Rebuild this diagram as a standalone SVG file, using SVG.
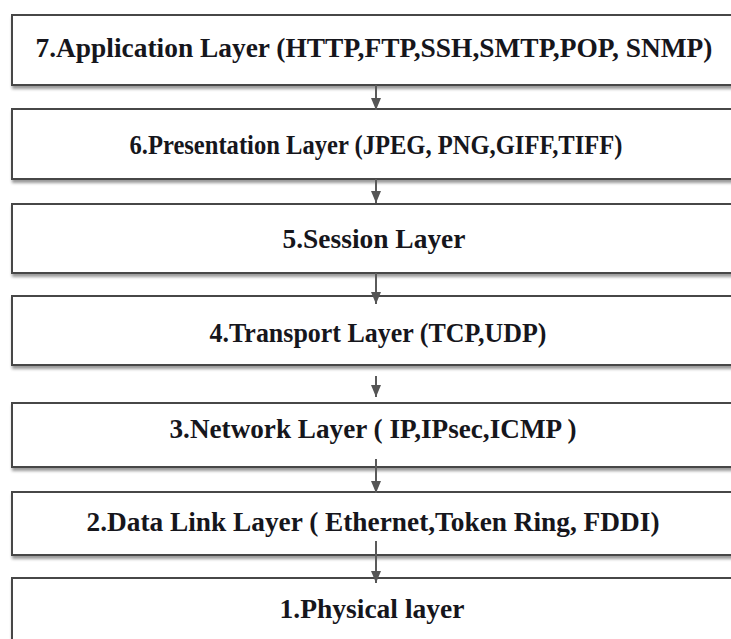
<svg xmlns="http://www.w3.org/2000/svg" width="731" height="639" viewBox="0 0 731 639">
  <style>
    .box { fill: #ffffff; stroke: #474747; stroke-width: 2; filter: url(#shadow); }
    .lbl { font-family: 'Liberation Serif', 'DejaVu Serif', serif; font-weight: bold; font-size: 28px; fill: #16161c; text-anchor: middle; }
    .conn { stroke: #5a5a5a; stroke-width: 2; fill: none; marker-end: url(#arrow); }
  </style>
  <defs>
    <filter id="shadow" x="-5%" y="-20%" width="110%" height="150%">
      <feDropShadow dx="1" dy="3" stdDeviation="1.5" flood-color="#000" flood-opacity="0.4"/>
    </filter>
    <marker id="arrow" viewBox="0 0 12 10" refX="12" refY="5" markerWidth="12" markerHeight="10" markerUnits="userSpaceOnUse" orient="auto">
      <path d="M0,0 L12,5 L0,10 z" fill="#555555"/>
    </marker>
  </defs>
  <rect width="731" height="639" fill="#ffffff"/>
  <g id="nodes">
    <g id="layer7">
      <rect class="box" x="12" y="15" width="728" height="70"/>
      <text class="lbl" x="374" y="57" textLength="677" lengthAdjust="spacingAndGlyphs">7.Application Layer  (HTTP,FTP,SSH,SMTP,POP, SNMP)</text>
    </g>
    <g id="layer6">
      <rect class="box" x="12" y="109" width="728" height="70"/>
      <text class="lbl" x="376" y="154" textLength="493" lengthAdjust="spacingAndGlyphs">6.Presentation Layer (JPEG, PNG,GIFF,TIFF)</text>
    </g>
    <g id="layer5">
      <rect class="box" x="12" y="204" width="728" height="69"/>
      <text class="lbl" x="374" y="248" textLength="183" lengthAdjust="spacingAndGlyphs">5.Session Layer</text>
    </g>
    <g id="layer4">
      <rect class="box" x="12" y="296" width="728" height="69"/>
      <text class="lbl" x="378" y="342" textLength="337" lengthAdjust="spacingAndGlyphs">4.Transport Layer (TCP,UDP)</text>
    </g>
    <g id="layer3">
      <rect class="box" x="12" y="403" width="728" height="64"/>
      <text class="lbl" x="373" y="438" textLength="407" lengthAdjust="spacingAndGlyphs">3.Network Layer ( IP,IPsec,ICMP )</text>
    </g>
    <g id="layer2">
      <rect class="box" x="12" y="492" width="728" height="63"/>
      <text class="lbl" x="373" y="531" textLength="573" lengthAdjust="spacingAndGlyphs">2.Data Link Layer ( Ethernet,Token Ring, FDDI)</text>
    </g>
    <g id="layer1">
      <rect class="box" x="12" y="578" width="728" height="70"/>
      <text class="lbl" x="372" y="618" textLength="185" lengthAdjust="spacingAndGlyphs">1.Physical layer</text>
    </g>
  </g>
  <g id="connectors">
    <line class="conn" x1="376" y1="85" x2="376" y2="110"/>
    <line class="conn" x1="376" y1="179" x2="376" y2="203"/>
    <line class="conn" x1="376" y1="273" x2="376" y2="304"/>
    <line class="conn" x1="376" y1="376" x2="376" y2="397"/>
    <line class="conn" x1="376" y1="459" x2="376" y2="493"/>
    <line class="conn" x1="376" y1="541" x2="376" y2="583"/>
  </g>
</svg>
